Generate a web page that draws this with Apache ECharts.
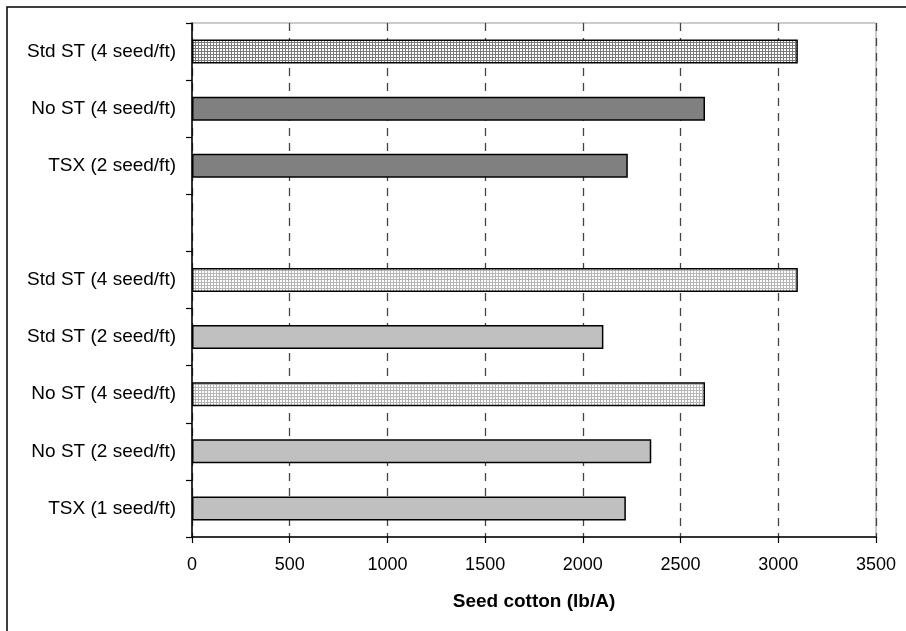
<!DOCTYPE html>
<html>
<head>
<meta charset="utf-8">
<script src="https://cdn.jsdelivr.net/npm/echarts@6/dist/echarts.min.js"></script>
<style>
html,body{margin:0;padding:0;background:#fff;}
#chart{width:906px;height:631px;}
</style>
</head>
<body>
<div id="chart"></div>
<script>
// ---- data ----
const categories = [
  'Std ST (4 seed/ft)',
  'No ST (4 seed/ft)',
  'TSX (2 seed/ft)',
  '',
  'Std ST (4 seed/ft)',
  'Std ST (2 seed/ft)',
  'No ST (4 seed/ft)',
  'No ST (2 seed/ft)',
  'TSX (1 seed/ft)'
];
const values = [3100, 2625, 2230, null, 3100, 2105, 2625, 2350, 2220];
const xTicks = [0, 500, 1000, 1500, 2000, 2500, 3000, 3500];
const xAxisTitle = 'Seed cotton (lb/A)';

// ---- styles ----
const fillKinds = ['patDark', 'dark', 'dark', 'none', 'patLight', 'light', 'patLight', 'light', 'light'];

function makePattern(lineColor) {
  const c = document.createElement('canvas');
  c.width = 3; c.height = 3;
  const ctx = c.getContext('2d');
  ctx.fillStyle = '#ffffff';
  ctx.fillRect(0, 0, 3, 3);
  ctx.fillStyle = lineColor;
  ctx.fillRect(0, 0, 3, 1);
  ctx.fillRect(0, 0, 1, 3);
  return { image: c, repeat: 'repeat' };
}
const fills = {
  patDark: makePattern('#7a7a7a'),
  patLight: makePattern('#b5b5b5'),
  dark: '#808080',
  light: '#c0c0c0',
  none: 'transparent'
};

const seriesData = values.map((v, i) => ({
  value: v,
  itemStyle: { color: fills[fillKinds[i]], borderColor: '#000', borderWidth: 1.5 }
}));

const chart = echarts.init(document.getElementById('chart'), null, { renderer: 'canvas' });
const FONT = '"Liberation Sans", Arial, sans-serif';
chart.setOption({
  animation: false,
  backgroundColor: '#fff',
  textStyle: { fontFamily: FONT },
  grid: { left: 192, right: 30, top: 23, bottom: 94, show: true, borderColor: '#999', borderWidth: 1 },
  xAxis: {
    type: 'value',
    min: xTicks[0],
    max: xTicks[xTicks.length - 1],
    interval: xTicks[1] - xTicks[0],
    name: xAxisTitle,
    nameLocation: 'middle',
    nameGap: 55,
    nameTextStyle: { fontSize: 19, fontWeight: 'bold', color: '#000', fontFamily: FONT },
    axisLine: { show: true, onZero: false, lineStyle: { color: '#000', width: 1.5 } },
    axisTick: { show: true, length: 6, lineStyle: { color: '#000', width: 1.2 } },
    axisLabel: { fontSize: 18, color: '#000', margin: 19, fontFamily: FONT, formatter: v => String(v) },
    splitLine: { show: true, lineStyle: { color: '#444', type: [8, 7], width: 1.3 } }
  },
  yAxis: {
    type: 'category',
    inverse: true,
    data: categories,
    axisLine: { show: true, lineStyle: { color: '#000', width: 1.5 } },
    axisTick: { show: true, length: 6, alignWithLabel: false, lineStyle: { color: '#000', width: 1.2 } },
    axisLabel: { fontSize: 19, color: '#000', margin: 16, fontFamily: FONT },
    splitLine: { show: false }
  },
  series: [{
    type: 'bar',
    data: seriesData,
    barWidth: 24,
    z: 3
  }],
  graphic: [{
    type: 'rect',
    silent: true,
    shape: { x: 7, y: 7, width: 920, height: 640 },
    style: { fill: 'none', stroke: '#000', lineWidth: 1.5 },
    z: 100
  }]
});
</script>
</body>
</html>
